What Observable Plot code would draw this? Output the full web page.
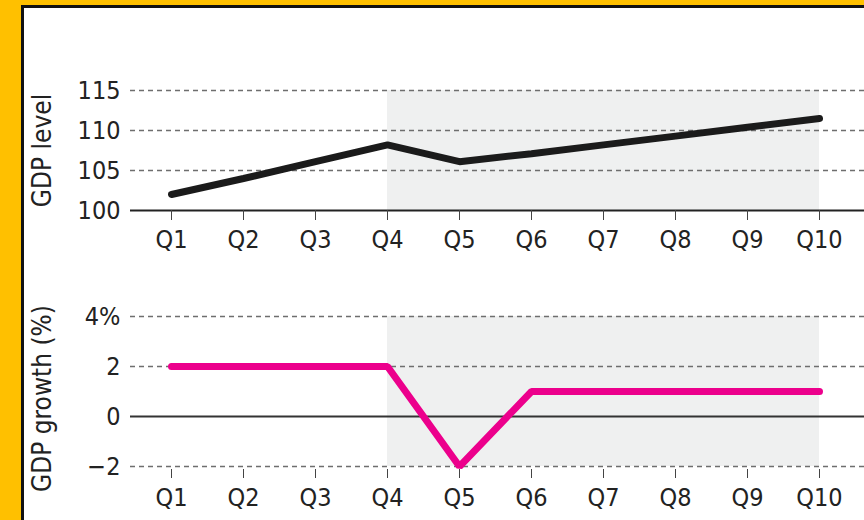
<!DOCTYPE html>
<html>
<head>
<meta charset="utf-8">
<script src="https://cdn.jsdelivr.net/npm/d3@7"></script>
<script src="https://cdn.jsdelivr.net/npm/@observablehq/plot@0.6"></script>
<style>
  html, body { margin: 0; padding: 0; }
  body { width: 864px; height: 520px; overflow: hidden; background: #FFC000; position: relative; }
  #card { position: absolute; left: 21px; top: 5px; width: 840px; height: 512px;
          border-left: 3px solid #111; border-top: 3px solid #111; background: #fff; }
  #card svg { display: block; }
</style>
</head>
<body>
<div id="card"></div>
<script>
const quarters = ["Q1", "Q2", "Q3", "Q4", "Q5", "Q6", "Q7", "Q8", "Q9", "Q10"];
const gdpLevel = [102.0, 104.0, 106.1, 108.2, 106.1, 107.1, 108.2, 109.3, 110.4, 111.5];
const gdpGrowth = [2, 2, 2, 2, -2, 1, 1, 1, 1, 1];
const levelTicks = [100, 105, 110, 115];
const growthTicks = [-2, 0, 2, 4];
const shade = {start: "Q4", end: "Q10"};
const labels = {level: "GDP level", growth: "GDP growth (%)"};

const FONT = '"Liberation Sans Narrow", "DejaVu Sans Condensed", "Arial Narrow", sans-serif';
const SHADE = "#eff0f0";
const GRID = "#6e6e6e";
const INK = "#222";

const levelData = quarters.map((q, i) => ({q, v: gdpLevel[i]}));
const growthData = quarters.map((q, i) => ({q, v: gdpGrowth[i]}));

const common = {
  width: 840,
  marginLeft: 106,
  marginRight: 0,
  style: {fontFamily: FONT, fontSize: "25px", color: INK, background: "transparent", overflow: "visible"}
};

const xScale = {type: "point", domain: quarters, range: [144, 798], padding: 0};

const levelChart = Plot.plot({
  ...common,
  height: 260,
  marginTop: 82,
  marginBottom: 58,
  x: xScale,
  y: {domain: [levelTicks[0], levelTicks[levelTicks.length - 1]]},
  marks: [
    Plot.rect([shade], {x1: "start", x2: "end", y1: levelTicks[0], y2: levelTicks[levelTicks.length - 1], fill: SHADE}),
    Plot.ruleY(levelTicks.slice(1), {stroke: GRID, strokeWidth: 1.5, strokeDasharray: "5,4"}),
    Plot.ruleY([levelTicks[0]], {stroke: INK, strokeWidth: 2}),
    Plot.axisY(levelTicks, {tickSize: 0, tickPadding: 10, fontSize: 25, label: null}),
    Plot.axisX(quarters, {tickSize: 10, tickPadding: 10, fontSize: 25, stroke: "#444", label: null}),
    Plot.line(levelData, {x: "q", y: "v", stroke: "#1b1b1b", strokeWidth: 7, strokeLinecap: "round", strokeLinejoin: "miter"}),
    Plot.text([labels.level], {frameAnchor: "left", rotate: -90, dx: -88, textAnchor: "middle", lineAnchor: "middle", fontSize: 26, fill: INK})
  ]
});

const growthChart = Plot.plot({
  ...common,
  height: 252,
  marginTop: 48,
  marginBottom: 54,
  x: xScale,
  y: {domain: [growthTicks[0], growthTicks[growthTicks.length - 1]]},
  marks: [
    Plot.rect([shade], {x1: "start", x2: "end", y1: growthTicks[0], y2: growthTicks[growthTicks.length - 1], fill: SHADE}),
    Plot.ruleY(growthTicks.filter(d => d !== 0), {stroke: GRID, strokeWidth: 1.5, strokeDasharray: "5,4"}),
    Plot.ruleY([0], {stroke: "#333", strokeWidth: 2}),
    Plot.axisY(growthTicks, {tickSize: 0, tickPadding: 10, fontSize: 25, label: null,
      tickFormat: d => d === growthTicks[growthTicks.length - 1] ? d + "%" : d < 0 ? "\u2212" + Math.abs(d) : String(d)}),
    Plot.axisX(quarters, {tickSize: 9, tickPadding: 10, dy: 3, fontSize: 25, stroke: "#444", label: null}),
    Plot.line(growthData, {x: "q", y: "v", stroke: "#EC008C", strokeWidth: 7, strokeLinecap: "round", strokeLinejoin: "miter"}),
    Plot.text([labels.growth], {frameAnchor: "left", rotate: -90, dx: -88, dy: 7, textAnchor: "middle", lineAnchor: "middle", fontSize: 26, fill: INK})
  ]
});

document.getElementById("card").append(levelChart, growthChart);
</script>
</body>
</html>
